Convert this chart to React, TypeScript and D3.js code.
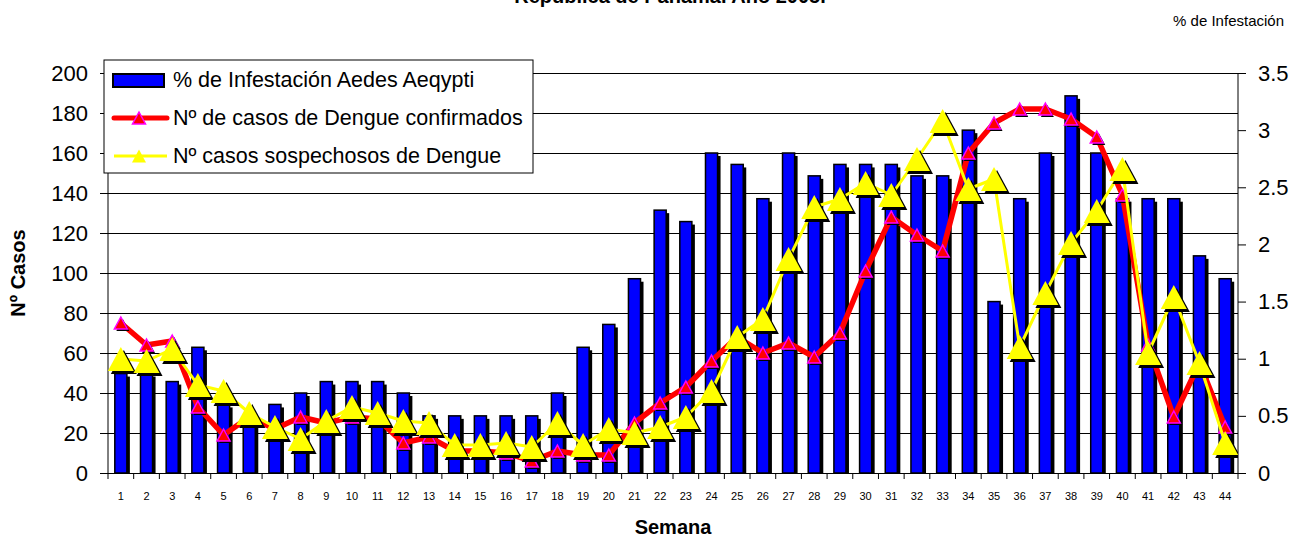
import { useEffect, useRef } from 'react'
import * as d3 from 'd3'

const WIDTH = 1294
const HEIGHT = 542
const MARGIN = { top: 73, right: 56, bottom: 69, left: 108 }
const FONT = 'Arial, "Liberation Sans", sans-serif'

const WEEKS = [
  '1', '2', '3', '4', '5', '6', '7', '8', '9', '10', '11',
  '12', '13', '14', '15', '16', '17', '18', '19', '20', '21', '22',
  '23', '24', '25', '26', '27', '28', '29', '30', '31', '32', '33',
  '34', '35', '36', '37', '38', '39', '40', '41', '42', '43', '44',
]

// % de infestación (eje derecho)
const INFESTATION = [
  0.87, 0.87, 0.8, 1.1, 0.6, 0.5, 0.6, 0.7, 0.8, 0.8, 0.8,
  0.7, 0.5, 0.5, 0.5, 0.5, 0.5, 0.7, 1.1, 1.3, 1.7, 2.3,
  2.2, 2.8, 2.7, 2.4, 2.8, 2.6, 2.7, 2.7, 2.7, 2.6, 2.6,
  3.0, 1.5, 2.4, 2.8, 3.3, 2.8, 2.4, 2.4, 2.4, 1.9, 1.7,
]

// Nº de casos confirmados (eje izquierdo)
const CONFIRMED = [
  75, 64, 66, 33, 19, 28, 22, 28, 25, 28, 27,
  15, 18, 11, 11, 10, 6, 11, 9, 9, 25, 35,
  43, 56, 68, 60, 65, 58, 70, 101, 128, 119, 111,
  160, 175, 182, 182, 177, 168, 139, 64, 28, 55, 23,
]

// Nº casos sospechosos
const SUSPECTED = [
  57, 56, 62, 44, 41, 30, 23, 17, 26, 33, 30,
  26, 25, 14, 14, 15, 13, 25, 14, 22, 20, 23,
  28, 41, 68, 77, 107, 133, 137, 145, 139, 157, 176,
  142, 147, 63, 90, 115, 131, 152, 60, 88, 55, 15,
]

const LEFT_TICKS = [0, 20, 40, 60, 80, 100, 120, 140, 160, 180, 200]
const RIGHT_TICKS = [0, 0.5, 1, 1.5, 2, 2.5, 3, 3.5]

const LEGEND = [
  { type: 'bar', label: '% de Infestación Aedes Aeqypti' },
  { type: 'red', label: 'Nº de casos de Dengue confirmados' },
  { type: 'yellow', label: 'Nº casos sospechosos de Dengue' },
]

const tri = (w: number, h: number) => `M0,${-h / 2}L${w / 2},${h / 2}L${-w / 2},${h / 2}Z`

export default function App() {
  const svgRef = useRef<SVGSVGElement>(null)

  useEffect(() => {
    const svgEl = svgRef.current
    if (!svgEl) return
    const svg = d3.select(svgEl)
    svg.selectAll('*').remove()

    const innerWidth = WIDTH - MARGIN.left - MARGIN.right
    const innerHeight = HEIGHT - MARGIN.top - MARGIN.bottom

    const x = d3.scaleBand<string>().domain(WEEKS).range([0, innerWidth])
    const yL = d3.scaleLinear([0, 200], [innerHeight, 0])
    const yR = d3.scaleLinear([0, 3.5], [innerHeight, 0])
    const cx = (i: number) => (x(WEEKS[i]) ?? 0) + x.bandwidth() / 2
    const barW = x.bandwidth() * 0.47

    svg.append('defs').append('clipPath').attr('id', 'plot-clip')
      .append('rect').attr('width', innerWidth).attr('height', innerHeight)

    // ── Titles ──────────────────────────────────────────────────────────────
    svg.append('text')
      .attr('x', 670).attr('y', 3)
      .attr('text-anchor', 'middle').attr('font-weight', 'bold').attr('font-size', 20)
      .text('República de Panamá. Año 2005.')

    svg.append('text')
      .attr('x', 1284).attr('y', 26)
      .attr('text-anchor', 'end').attr('font-size', 15)
      .text('% de Infestación')

    svg.append('text')
      .attr('x', MARGIN.left + innerWidth / 2).attr('y', 534)
      .attr('text-anchor', 'middle').attr('font-weight', 'bold').attr('font-size', 20)
      .text('Semana')

    svg.append('text')
      .attr('transform', `translate(25,${MARGIN.top + innerHeight / 2}) rotate(-90)`)
      .attr('text-anchor', 'middle').attr('font-weight', 'bold').attr('font-size', 20)
      .text('Nº Casos')

    const g = svg.append('g').attr('transform', `translate(${MARGIN.left},${MARGIN.top})`)

    // ── Grid ────────────────────────────────────────────────────────────────
    g.append('g')
      .selectAll('line')
      .data(LEFT_TICKS.filter(d => d > 0))
      .join('line')
      .attr('x1', 0).attr('x2', innerWidth)
      .attr('y1', d => yL(d)).attr('y2', d => yL(d))
      .attr('stroke', '#000').attr('stroke-width', 1)
      .attr('shape-rendering', 'crispEdges')

    // ── Axes ────────────────────────────────────────────────────────────────
    g.append('g')
      .call(d3.axisLeft(yL).tickValues(LEFT_TICKS).tickSize(8).tickPadding(12))
      .call(ag => ag.select('.domain').attr('stroke', '#000').attr('d', `M0,0V${innerHeight}`))
      .call(ag => ag.selectAll('.tick line').attr('stroke', '#000'))
      .call(ag => ag.selectAll('text').attr('fill', '#000').attr('font-size', 22).attr('font-family', FONT))

    g.append('g')
      .attr('transform', `translate(${innerWidth},0)`)
      .call(d3.axisRight(yR).tickValues(RIGHT_TICKS).tickSize(8).tickPadding(12).tickFormat(d => `${d}`))
      .call(ag => ag.select('.domain').attr('stroke', '#000').attr('d', `M0,0V${innerHeight}`))
      .call(ag => ag.selectAll('.tick line').attr('stroke', '#000'))
      .call(ag => ag.selectAll('text').attr('fill', '#000').attr('font-size', 22).attr('font-family', FONT))

    const xAxis = g.append('g').attr('transform', `translate(0,${innerHeight})`)
    xAxis.append('line')
      .attr('x1', 0).attr('x2', innerWidth)
      .attr('stroke', '#000').attr('shape-rendering', 'crispEdges')
    xAxis.selectAll('line.tk')
      .data(d3.range(WEEKS.length + 1))
      .join('line').attr('class', 'tk')
      .attr('x1', i => i * x.step()).attr('x2', i => i * x.step())
      .attr('y1', 0).attr('y2', 6)
      .attr('stroke', '#000')
    xAxis.selectAll('text')
      .data(WEEKS)
      .join('text')
      .attr('x', d => (x(d) ?? 0) + x.bandwidth() / 2).attr('y', 27)
      .attr('text-anchor', 'middle').attr('font-size', 11)
      .text(d => d)

    const plot = g.append('g').attr('clip-path', 'url(#plot-clip)')

    // ── Bars ────────────────────────────────────────────────────────────────
    plot.selectAll('rect.shadow')
      .data(INFESTATION)
      .join('rect').attr('class', 'shadow')
      .attr('x', (_, i) => cx(i) - barW / 2 + 3).attr('y', d => yR(d) + 3)
      .attr('width', barW).attr('height', d => innerHeight - yR(d))
      .attr('fill', '#000')
    plot.selectAll('rect.bar')
      .data(INFESTATION)
      .join('rect').attr('class', 'bar')
      .attr('x', (_, i) => cx(i) - barW / 2).attr('y', d => yR(d))
      .attr('width', barW).attr('height', d => innerHeight - yR(d))
      .attr('fill', '#0000FF').attr('stroke', '#000').attr('stroke-width', 1.5)

    // ── Lines ───────────────────────────────────────────────────────────────
    const line = d3.line<number>().x((_, i) => cx(i)).y(d => yL(d))

    plot.append('path').datum(CONFIRMED)
      .attr('d', line).attr('fill', 'none')
      .attr('stroke', '#FF0000').attr('stroke-width', 5.5).attr('stroke-linejoin', 'round')

    plot.selectAll('path.rs')
      .data(CONFIRMED).join('path').attr('class', 'rs')
      .attr('d', tri(13, 12))
      .attr('transform', (d, i) => `translate(${cx(i) + 2},${yL(d) + 2})`)
      .attr('fill', '#000')
    plot.selectAll('path.rm')
      .data(CONFIRMED).join('path').attr('class', 'rm')
      .attr('d', tri(13, 12))
      .attr('transform', (d, i) => `translate(${cx(i)},${yL(d)})`)
      .attr('fill', '#FF0000').attr('stroke', '#FF00FF').attr('stroke-width', 1.5)

    plot.append('path').datum(SUSPECTED)
      .attr('d', line).attr('fill', 'none')
      .attr('stroke', '#FFFF00').attr('stroke-width', 3).attr('stroke-linejoin', 'round')

    plot.selectAll('path.ys')
      .data(SUSPECTED).join('path').attr('class', 'ys')
      .attr('d', tri(26, 24))
      .attr('transform', (d, i) => `translate(${cx(i) + 3},${yL(d) + 3})`)
      .attr('fill', '#000')
    plot.selectAll('path.ym')
      .data(SUSPECTED).join('path').attr('class', 'ym')
      .attr('d', tri(26, 24))
      .attr('transform', (d, i) => `translate(${cx(i)},${yL(d)})`)
      .attr('fill', '#FFFF00')

    // ── Legend ──────────────────────────────────────────────────────────────
    const lg = svg.append('g').attr('transform', 'translate(104,60)')
    lg.append('rect')
      .attr('width', 429).attr('height', 113)
      .attr('fill', '#fff').attr('stroke', '#000').attr('stroke-width', 1)
    LEGEND.forEach(({ type, label }, i) => {
      const ly = 20 + i * 38
      if (type === 'bar') {
        lg.append('rect')
          .attr('x', 9).attr('y', ly - 6).attr('width', 51).attr('height', 13)
          .attr('fill', '#0000FF').attr('stroke', '#000').attr('stroke-width', 2)
      } else if (type === 'red') {
        lg.append('line')
          .attr('x1', 10).attr('x2', 63).attr('y1', ly).attr('y2', ly)
          .attr('stroke', '#FF0000').attr('stroke-width', 5).attr('stroke-linecap', 'round')
        lg.append('path').attr('d', tri(13, 12))
          .attr('transform', `translate(35,${ly})`)
          .attr('fill', '#FF0000').attr('stroke', '#FF00FF').attr('stroke-width', 1.5)
      } else {
        lg.append('line')
          .attr('x1', 10).attr('x2', 63).attr('y1', ly).attr('y2', ly)
          .attr('stroke', '#FFFF00').attr('stroke-width', 3)
        lg.append('path').attr('d', tri(14, 13))
          .attr('transform', `translate(35,${ly})`)
          .attr('fill', '#FFFF00')
      }
      lg.append('text')
        .attr('x', 69).attr('y', ly + 7)
        .attr('font-size', 21.5)
        .text(label)
    })
  }, [])

  return (
    <div style={{ position: 'absolute', left: 0, top: 0, width: WIDTH, height: HEIGHT, background: '#fff' }}>
      <svg ref={svgRef} width={WIDTH} height={HEIGHT} fontFamily={FONT} style={{ display: 'block' }} />
    </div>
  )
}
